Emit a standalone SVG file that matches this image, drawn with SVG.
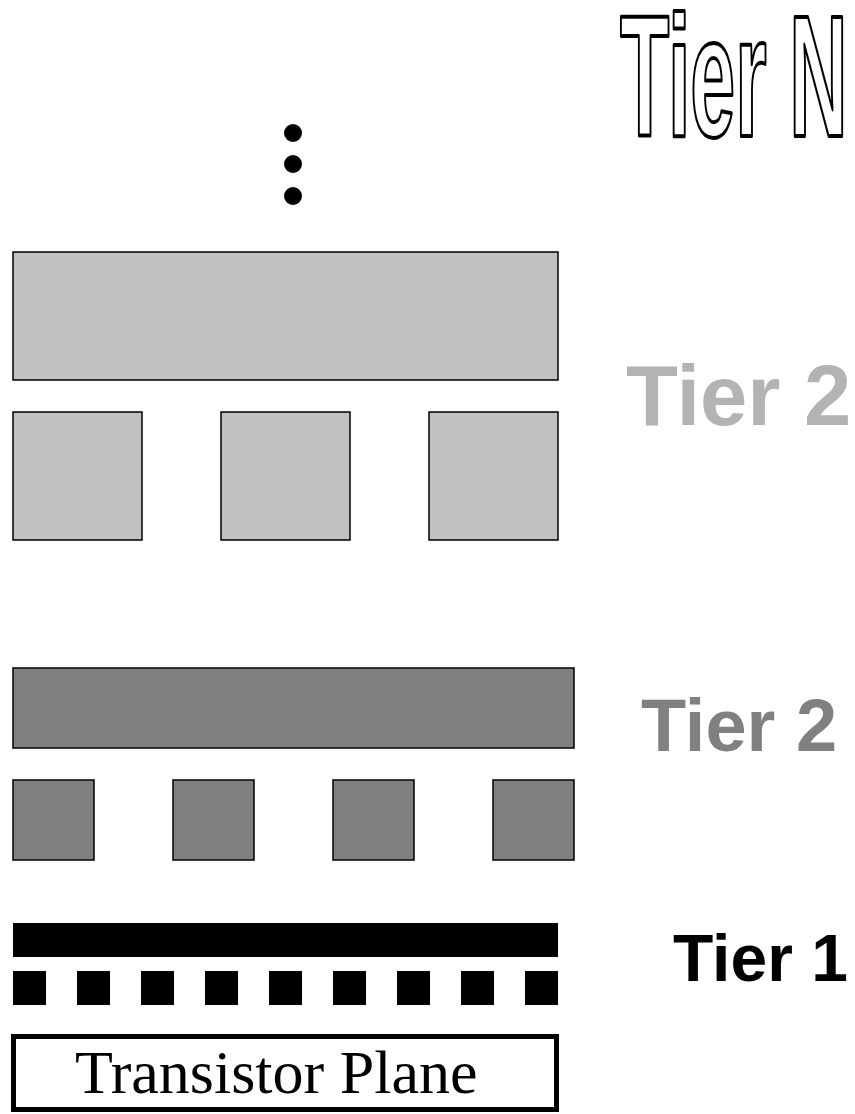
<svg xmlns="http://www.w3.org/2000/svg" width="855" height="1114" viewBox="0 0 855 1114">
  <style>
    .light { fill: #c0c0c0; stroke: #000; stroke-width: 1.5; }
    .mid { fill: #808080; stroke: #000; stroke-width: 1.5; }
    .solid { fill: #000; }
    .label { font-family: "Liberation Sans", Arial, sans-serif; font-weight: bold; }
  </style>
  <rect width="855" height="1114" fill="#fff"/>

  <!-- Tier N heading, outlined and horizontally condensed -->
  <g id="tierN-label" transform="translate(620,136) scale(0.47,1)">
    <text class="label" x="0" y="0" font-size="172" fill="#fff" stroke="#000" stroke-width="4" stroke-linejoin="round">Tier N</text>
  </g>

  <!-- ellipsis between tiers -->
  <g id="ellipsis" fill="#000">
    <circle cx="293" cy="133" r="9"/>
    <circle cx="293" cy="164" r="9"/>
    <circle cx="293" cy="196" r="9"/>
  </g>

  <!-- upper tier: wide wire and three vias -->
  <g id="tier2-upper">
    <rect class="light" x="13" y="252" width="545" height="128"/>
    <rect class="light" x="13" y="412" width="129" height="128"/>
    <rect class="light" x="221" y="412" width="129" height="128"/>
    <rect class="light" x="429" y="412" width="129" height="128"/>
  </g>
  <g id="tier2-upper-label">
    <text class="label" x="626" y="425" font-size="85" fill="#b3b3b3">Tier 2</text>
  </g>

  <!-- middle tier: intermediate wire and four vias -->
  <g id="tier2-lower">
    <rect class="mid" x="13" y="668" width="561" height="80"/>
    <rect class="mid" x="13" y="780" width="81" height="80"/>
    <rect class="mid" x="173" y="780" width="81" height="80"/>
    <rect class="mid" x="333" y="780" width="81" height="80"/>
    <rect class="mid" x="493" y="780" width="81" height="80"/>
  </g>
  <g id="tier2-lower-label">
    <text class="label" x="641" y="751" font-size="74" fill="#808080">Tier 2</text>
  </g>

  <!-- local tier: thin wire and nine contacts -->
  <g id="tier1">
    <rect class="solid" x="13" y="923" width="545" height="34"/>
    <rect class="solid" x="13" y="971" width="33" height="34"/>
    <rect class="solid" x="77" y="971" width="33" height="34"/>
    <rect class="solid" x="141" y="971" width="33" height="34"/>
    <rect class="solid" x="205" y="971" width="33" height="34"/>
    <rect class="solid" x="269" y="971" width="33" height="34"/>
    <rect class="solid" x="333" y="971" width="33" height="34"/>
    <rect class="solid" x="397" y="971" width="33" height="34"/>
    <rect class="solid" x="461" y="971" width="33" height="34"/>
    <rect class="solid" x="525" y="971" width="33" height="34"/>
  </g>
  <g id="tier1-label">
    <text class="label" x="673" y="981" font-size="66" fill="#000">Tier 1</text>
  </g>

  <!-- device layer -->
  <g id="transistor-plane">
    <rect x="13.5" y="1036.5" width="543" height="73" fill="#fff" stroke="#000" stroke-width="5"/>
    <text x="75" y="1093" font-family="'Liberation Serif', 'Times New Roman', serif" font-size="62" fill="#000">Transistor Plane</text>
  </g>

  <g id="connectors"/>
</svg>
